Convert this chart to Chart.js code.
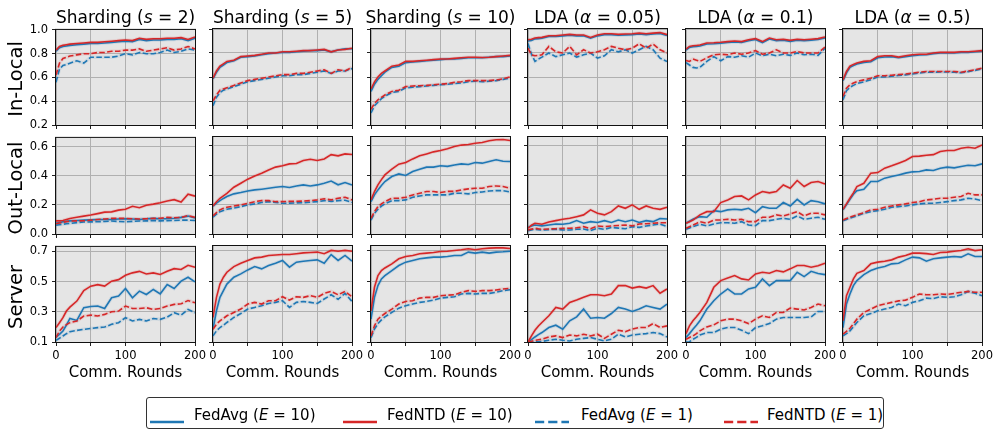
<!DOCTYPE html>
<html>
<head>
<meta charset="utf-8">
<script src="https://cdn.jsdelivr.net/npm/chart.js"></script>
<style>
  body { margin: 0; background: #fff; width: 1000px; height: 436px; position: relative; overflow: hidden;
         font-family: 'DejaVu Sans', sans-serif; color: #000; }
  canvas { position: absolute; }
  .title { position: absolute; top: 9px; font-size: 17px; line-height: 17px; text-align: center; white-space: nowrap; }
  .rowlab { position: absolute; font-size: 19.5px; line-height: 20px; white-space: nowrap;
            transform: translate(-50%, -50%) rotate(-90deg); }
  .xlab { position: absolute; top: 365px; font-size: 15px; line-height: 15px; text-align: center; white-space: nowrap; }
  #legend { position: absolute; left: 146px; top: 397px; width: 738px; height: 32px; box-sizing: border-box;
            border: 1px solid #333; border-radius: 3px; }
  .lg { position: absolute; font-size: 15px; line-height: 15px; white-space: nowrap; top: 408px; }
  .lgline { position: absolute; top: 410px; }
</style>
</head>
<body>
<script>
// x positions (communication rounds) at which the curves were read
const rounds = [0, 5, 10, 15, 20, 30, 40, 50, 60, 70, 80, 90, 100, 110, 120, 130, 140, 150, 160, 170, 180, 190, 200];

const settings = ['Sharding (<i>s</i> = 2)', 'Sharding (<i>s</i> = 5)', 'Sharding (<i>s</i> = 10)',
                  'LDA (<i>α</i> = 0.05)', 'LDA (<i>α</i> = 0.1)', 'LDA (<i>α</i> = 0.5)'];
const metrics = ['In-Local', 'Out-Local', 'Server'];
const methods = ['FedAvg (<i>E</i> = 10)', 'FedNTD (<i>E</i> = 10)', 'FedAvg (<i>E</i> = 1)', 'FedNTD (<i>E</i> = 1)'];

const yTicks = [[0.2, 0.4, 0.6, 0.8, 1.0], [0.0, 0.2, 0.4, 0.6], [0.1, 0.3, 0.5, 0.7]];
const yMin = [0.2, 0.0, 0.1];
const yMax = [1.0, 0.66, 0.73];
const xTicks = [0, 50, 100, 150, 200];
const xTickLabels = [0, 100, 200];

// In-Local accuracy, one list per setting (s=2, s=5, s=10, a=0.05, a=0.1, a=0.5)
const inAvg10 = [
  [0.82,0.85,0.86,0.865,0.87,0.875,0.88,0.885,0.885,0.89,0.895,0.90,0.905,0.90,0.92,0.91,0.915,0.915,0.92,0.92,0.925,0.91,0.93],
  [0.585,0.64,0.68,0.70,0.72,0.735,0.765,0.77,0.775,0.785,0.795,0.80,0.805,0.805,0.81,0.815,0.82,0.82,0.825,0.81,0.825,0.835,0.835],
  [0.48,0.54,0.58,0.61,0.64,0.68,0.69,0.72,0.725,0.73,0.735,0.74,0.745,0.75,0.75,0.755,0.76,0.76,0.76,0.765,0.77,0.77,0.775],
  [0.90,0.905,0.918,0.92,0.923,0.937,0.937,0.943,0.948,0.943,0.943,0.923,0.943,0.953,0.953,0.948,0.951,0.953,0.959,0.953,0.959,0.963,0.946],
  [0.825,0.847,0.852,0.855,0.858,0.875,0.877,0.881,0.887,0.892,0.887,0.902,0.912,0.887,0.917,0.902,0.907,0.897,0.907,0.902,0.907,0.912,0.925],
  [0.57,0.635,0.68,0.695,0.708,0.722,0.727,0.76,0.767,0.77,0.76,0.77,0.778,0.783,0.785,0.795,0.80,0.80,0.80,0.805,0.805,0.81,0.815]
];
const inNtd10 = [
  [0.83,0.86,0.87,0.875,0.88,0.885,0.89,0.895,0.895,0.90,0.905,0.91,0.915,0.91,0.93,0.92,0.925,0.925,0.93,0.93,0.935,0.92,0.94],
  [0.59,0.65,0.69,0.71,0.73,0.74,0.77,0.775,0.78,0.79,0.80,0.80,0.81,0.81,0.815,0.82,0.82,0.825,0.83,0.81,0.825,0.83,0.84],
  [0.50,0.56,0.60,0.63,0.65,0.69,0.70,0.73,0.73,0.735,0.74,0.745,0.75,0.75,0.755,0.76,0.765,0.765,0.763,0.765,0.77,0.775,0.78],
  [0.91,0.915,0.925,0.928,0.93,0.944,0.944,0.95,0.955,0.95,0.95,0.93,0.95,0.96,0.96,0.955,0.958,0.96,0.966,0.96,0.966,0.97,0.953],
  [0.833,0.855,0.86,0.863,0.866,0.883,0.885,0.889,0.895,0.90,0.895,0.91,0.92,0.895,0.925,0.91,0.915,0.905,0.915,0.91,0.915,0.92,0.933],
  [0.576,0.646,0.69,0.705,0.716,0.73,0.735,0.77,0.777,0.777,0.766,0.777,0.785,0.79,0.79,0.80,0.805,0.805,0.805,0.81,0.81,0.815,0.82]
];
const inAvg1 = [
  [0.56,0.67,0.70,0.71,0.72,0.74,0.72,0.77,0.77,0.77,0.77,0.78,0.80,0.79,0.81,0.80,0.80,0.81,0.83,0.81,0.82,0.84,0.83],
  [0.36,0.43,0.47,0.49,0.50,0.52,0.54,0.56,0.57,0.58,0.59,0.60,0.61,0.61,0.62,0.62,0.63,0.64,0.65,0.63,0.65,0.65,0.67],
  [0.30,0.36,0.39,0.42,0.44,0.47,0.48,0.51,0.515,0.52,0.525,0.53,0.535,0.54,0.545,0.55,0.56,0.565,0.56,0.565,0.57,0.58,0.59],
  [0.88,0.79,0.73,0.75,0.766,0.80,0.77,0.785,0.80,0.766,0.785,0.80,0.757,0.777,0.827,0.81,0.827,0.80,0.827,0.855,0.827,0.757,0.73],
  [0.72,0.70,0.68,0.675,0.68,0.73,0.77,0.735,0.77,0.765,0.777,0.765,0.80,0.777,0.79,0.777,0.79,0.78,0.80,0.785,0.79,0.78,0.84],
  [0.41,0.485,0.515,0.53,0.545,0.56,0.578,0.60,0.60,0.607,0.612,0.618,0.625,0.633,0.64,0.64,0.642,0.642,0.64,0.635,0.645,0.655,0.668]
];
const inNtd1 = [
  [0.62,0.72,0.76,0.77,0.78,0.79,0.80,0.80,0.81,0.81,0.82,0.82,0.83,0.83,0.84,0.82,0.83,0.84,0.85,0.83,0.84,0.86,0.84],
  [0.40,0.45,0.49,0.50,0.51,0.53,0.55,0.57,0.58,0.59,0.60,0.61,0.62,0.62,0.63,0.63,0.64,0.65,0.66,0.63,0.66,0.65,0.68],
  [0.33,0.38,0.41,0.43,0.45,0.48,0.49,0.52,0.525,0.527,0.53,0.535,0.54,0.545,0.555,0.56,0.57,0.57,0.57,0.57,0.575,0.585,0.60],
  [0.84,0.785,0.777,0.78,0.785,0.855,0.81,0.80,0.855,0.785,0.827,0.80,0.81,0.827,0.855,0.84,0.827,0.84,0.877,0.84,0.875,0.827,0.80],
  [0.738,0.73,0.75,0.74,0.73,0.76,0.785,0.79,0.785,0.80,0.79,0.80,0.82,0.79,0.80,0.827,0.80,0.80,0.813,0.80,0.80,0.80,0.85],
  [0.437,0.507,0.535,0.55,0.562,0.576,0.59,0.61,0.61,0.615,0.62,0.625,0.632,0.64,0.646,0.646,0.646,0.646,0.646,0.64,0.65,0.66,0.674]
];

// Out-Local accuracy
const outAvg10 = [
  [0.073,0.078,0.084,0.087,0.09,0.093,0.095,0.097,0.10,0.10,0.10,0.103,0.105,0.103,0.10,0.105,0.107,0.105,0.105,0.108,0.114,0.123,0.11],
  [0.19,0.21,0.227,0.242,0.255,0.273,0.282,0.293,0.30,0.305,0.311,0.318,0.323,0.316,0.327,0.334,0.327,0.334,0.345,0.36,0.335,0.35,0.334],
  [0.22,0.266,0.30,0.33,0.357,0.391,0.409,0.398,0.425,0.441,0.455,0.455,0.464,0.46,0.47,0.477,0.473,0.486,0.482,0.493,0.505,0.495,0.493],
  [0.045,0.055,0.061,0.058,0.055,0.061,0.068,0.066,0.073,0.091,0.073,0.084,0.078,0.091,0.078,0.095,0.084,0.095,0.078,0.091,0.084,0.105,0.102],
  [0.073,0.087,0.10,0.11,0.118,0.114,0.159,0.152,0.164,0.168,0.164,0.175,0.145,0.186,0.175,0.175,0.214,0.191,0.236,0.198,0.227,0.22,0.205],
  [0.164,0.20,0.236,0.27,0.295,0.305,0.357,0.357,0.38,0.391,0.402,0.414,0.423,0.425,0.436,0.432,0.448,0.455,0.45,0.459,0.468,0.464,0.477]
];
const outNtd10 = [
  [0.09,0.09,0.093,0.10,0.107,0.115,0.123,0.13,0.14,0.15,0.152,0.164,0.17,0.19,0.18,0.198,0.205,0.214,0.227,0.236,0.22,0.273,0.26],
  [0.19,0.22,0.243,0.26,0.277,0.318,0.345,0.373,0.395,0.414,0.436,0.455,0.464,0.477,0.48,0.50,0.509,0.50,0.51,0.54,0.532,0.545,0.541],
  [0.232,0.289,0.334,0.37,0.402,0.441,0.475,0.486,0.511,0.532,0.545,0.559,0.568,0.58,0.595,0.605,0.609,0.618,0.623,0.634,0.641,0.643,0.636],
  [0.039,0.06,0.073,0.07,0.066,0.082,0.091,0.10,0.107,0.118,0.13,0.164,0.141,0.13,0.152,0.191,0.175,0.198,0.168,0.191,0.175,0.168,0.182],
  [0.073,0.084,0.095,0.112,0.13,0.152,0.152,0.214,0.232,0.255,0.259,0.232,0.266,0.289,0.28,0.289,0.334,0.311,0.364,0.323,0.35,0.357,0.341],
  [0.168,0.205,0.243,0.28,0.323,0.345,0.414,0.418,0.448,0.464,0.482,0.50,0.527,0.53,0.536,0.54,0.561,0.568,0.568,0.584,0.59,0.584,0.605]
];
const outAvg1 = [
  [0.061,0.064,0.067,0.07,0.073,0.078,0.082,0.083,0.084,0.086,0.089,0.086,0.084,0.087,0.089,0.09,0.091,0.09,0.091,0.093,0.095,0.095,0.093],
  [0.114,0.135,0.152,0.16,0.168,0.177,0.186,0.198,0.205,0.214,0.22,0.215,0.209,0.21,0.212,0.213,0.216,0.22,0.227,0.222,0.227,0.23,0.214],
  [0.095,0.14,0.168,0.19,0.205,0.227,0.227,0.232,0.25,0.259,0.266,0.266,0.266,0.266,0.277,0.277,0.273,0.282,0.286,0.293,0.295,0.295,0.286],
  [0.023,0.028,0.032,0.03,0.027,0.03,0.032,0.028,0.027,0.032,0.034,0.023,0.039,0.032,0.045,0.04,0.036,0.05,0.045,0.055,0.061,0.068,0.05],
  [0.032,0.041,0.05,0.058,0.066,0.055,0.068,0.077,0.077,0.073,0.084,0.061,0.057,0.091,0.091,0.10,0.107,0.10,0.123,0.10,0.107,0.114,0.10],
  [0.091,0.099,0.107,0.115,0.123,0.141,0.152,0.159,0.168,0.182,0.186,0.191,0.198,0.205,0.209,0.209,0.214,0.22,0.227,0.232,0.243,0.238,0.227]
];
const outNtd1 = [
  [0.07,0.075,0.08,0.085,0.089,0.09,0.091,0.095,0.10,0.103,0.107,0.107,0.107,0.105,0.103,0.105,0.107,0.108,0.114,0.112,0.114,0.127,0.114],
  [0.123,0.145,0.164,0.175,0.182,0.19,0.198,0.209,0.22,0.227,0.227,0.22,0.22,0.222,0.222,0.224,0.227,0.232,0.24,0.232,0.243,0.25,0.232],
  [0.107,0.152,0.186,0.205,0.22,0.243,0.243,0.25,0.266,0.277,0.289,0.289,0.282,0.29,0.29,0.30,0.307,0.311,0.311,0.323,0.327,0.323,0.311],
  [0.027,0.033,0.039,0.035,0.032,0.034,0.036,0.038,0.039,0.042,0.05,0.036,0.055,0.05,0.055,0.058,0.061,0.055,0.068,0.07,0.073,0.077,0.077],
  [0.039,0.05,0.061,0.072,0.084,0.073,0.095,0.095,0.10,0.095,0.10,0.084,0.084,0.114,0.114,0.13,0.123,0.136,0.152,0.123,0.141,0.141,0.13],
  [0.095,0.105,0.114,0.122,0.13,0.145,0.164,0.168,0.182,0.191,0.198,0.205,0.214,0.22,0.232,0.236,0.243,0.243,0.25,0.255,0.277,0.266,0.266]
];

// Server (global model) accuracy
const srvAvg10 = [
  [0.133,0.151,0.173,0.212,0.256,0.243,0.327,0.335,0.338,0.322,0.393,0.404,0.454,0.393,0.437,0.415,0.448,0.419,0.48,0.454,0.503,0.529,0.498],
  [0.184,0.305,0.393,0.437,0.48,0.525,0.547,0.573,0.595,0.58,0.602,0.617,0.635,0.591,0.624,0.63,0.635,0.639,0.617,0.674,0.635,0.668,0.63],
  [0.25,0.393,0.47,0.514,0.536,0.569,0.602,0.624,0.635,0.646,0.652,0.657,0.657,0.661,0.668,0.668,0.69,0.683,0.69,0.683,0.69,0.692,0.696],
  [0.10,0.115,0.133,0.148,0.162,0.195,0.21,0.184,0.239,0.265,0.316,0.256,0.261,0.256,0.287,0.327,0.316,0.30,0.316,0.338,0.327,0.316,0.349],
  [0.129,0.155,0.184,0.21,0.239,0.316,0.371,0.415,0.448,0.415,0.415,0.448,0.459,0.514,0.47,0.503,0.503,0.503,0.558,0.529,0.564,0.55,0.542],
  [0.195,0.349,0.415,0.47,0.503,0.542,0.569,0.586,0.595,0.613,0.617,0.639,0.657,0.652,0.63,0.646,0.652,0.657,0.661,0.657,0.679,0.661,0.661]
];
const srvNtd10 = [
  [0.195,0.228,0.261,0.305,0.331,0.371,0.441,0.47,0.48,0.47,0.503,0.513,0.542,0.558,0.568,0.551,0.558,0.547,0.568,0.586,0.58,0.608,0.595],
  [0.261,0.393,0.48,0.525,0.558,0.595,0.617,0.635,0.652,0.657,0.668,0.671,0.674,0.674,0.679,0.685,0.687,0.69,0.679,0.701,0.696,0.701,0.696],
  [0.305,0.459,0.536,0.569,0.586,0.613,0.646,0.661,0.668,0.679,0.683,0.687,0.694,0.696,0.70,0.705,0.712,0.705,0.712,0.716,0.718,0.718,0.714],
  [0.10,0.14,0.177,0.205,0.228,0.272,0.327,0.316,0.36,0.375,0.393,0.41,0.41,0.404,0.415,0.47,0.47,0.454,0.463,0.454,0.47,0.42,0.448],
  [0.155,0.206,0.239,0.265,0.294,0.36,0.459,0.503,0.52,0.536,0.514,0.507,0.547,0.558,0.551,0.569,0.56,0.58,0.602,0.602,0.591,0.60,0.617],
  [0.239,0.404,0.459,0.514,0.551,0.569,0.613,0.624,0.63,0.639,0.657,0.668,0.683,0.683,0.68,0.674,0.687,0.69,0.696,0.70,0.712,0.70,0.705]
];
const srvAvg1 = [
  [0.111,0.125,0.14,0.155,0.168,0.177,0.184,0.19,0.195,0.199,0.217,0.228,0.261,0.239,0.25,0.239,0.256,0.25,0.265,0.294,0.278,0.316,0.294],
  [0.14,0.173,0.195,0.21,0.228,0.261,0.287,0.316,0.327,0.338,0.353,0.36,0.371,0.327,0.36,0.366,0.36,0.353,0.382,0.41,0.38,0.419,0.366],
  [0.129,0.184,0.221,0.245,0.265,0.294,0.322,0.338,0.349,0.36,0.366,0.375,0.388,0.393,0.397,0.415,0.419,0.415,0.419,0.419,0.426,0.437,0.443],
  [0.10,0.10,0.10,0.102,0.104,0.111,0.118,0.111,0.107,0.118,0.124,0.129,0.118,0.107,0.118,0.151,0.133,0.146,0.151,0.155,0.162,0.155,0.133],
  [0.10,0.102,0.118,0.13,0.146,0.162,0.162,0.184,0.195,0.195,0.177,0.155,0.195,0.206,0.221,0.25,0.261,0.261,0.261,0.261,0.265,0.30,0.30],
  [0.14,0.155,0.173,0.2,0.228,0.272,0.287,0.305,0.316,0.327,0.349,0.338,0.36,0.371,0.388,0.385,0.397,0.393,0.397,0.41,0.432,0.42,0.404]
];
const srvNtd1 = [
  [0.129,0.173,0.199,0.215,0.228,0.239,0.272,0.278,0.272,0.283,0.30,0.305,0.338,0.322,0.322,0.327,0.316,0.322,0.338,0.349,0.353,0.375,0.36],
  [0.184,0.217,0.239,0.255,0.272,0.294,0.316,0.349,0.36,0.349,0.371,0.371,0.397,0.375,0.397,0.393,0.404,0.393,0.419,0.432,0.41,0.432,0.397],
  [0.14,0.206,0.25,0.27,0.287,0.316,0.349,0.366,0.371,0.388,0.393,0.393,0.404,0.407,0.41,0.426,0.437,0.432,0.437,0.437,0.441,0.448,0.452],
  [0.10,0.105,0.111,0.115,0.118,0.133,0.14,0.129,0.146,0.14,0.151,0.14,0.151,0.124,0.151,0.177,0.168,0.184,0.195,0.195,0.221,0.195,0.206],
  [0.118,0.13,0.14,0.155,0.173,0.199,0.212,0.239,0.25,0.25,0.239,0.221,0.25,0.272,0.261,0.294,0.294,0.322,0.316,0.31,0.327,0.349,0.338],
  [0.151,0.17,0.19,0.22,0.25,0.294,0.316,0.338,0.349,0.36,0.37,0.375,0.393,0.415,0.41,0.41,0.415,0.412,0.419,0.426,0.432,0.426,0.426]
];

const series = [
  [inAvg10, inNtd10, inAvg1, inNtd1],
  [outAvg10, outNtd10, outAvg1, outNtd1],
  [srvAvg10, srvNtd10, srvAvg1, srvNtd1]
];

const lineColors = ['#1f77b4', '#d62728', '#1f77b4', '#d62728'];
const haloColors = ['rgba(31,119,180,0.12)', 'rgba(214,39,40,0.12)', 'rgba(31,119,180,0.1)', 'rgba(214,39,40,0.1)'];
const dashes = [[], [], [5.5, 2.4], [5.5, 2.4]];

// panel geometry (plot areas)
const colL = [56, 213, 371, 528, 686, 843];
const plotW = 139;
const rowT = [29, 137, 246];
const rowH = [96, 97, 96];
const PL = 50, PT = 10, PR = 16, PB = 30;

Chart.defaults.font.family = "'DejaVu Sans', sans-serif";
Chart.defaults.color = '#000';

const panelFrame = {
  id: 'panelFrame',
  beforeDraw(chart) {
    const a = chart.chartArea, ctx = chart.ctx;
    ctx.save();
    ctx.fillStyle = '#e5e5e5';
    ctx.fillRect(a.left, a.top, a.right - a.left, a.bottom - a.top);
    ctx.restore();
  },
  afterDraw(chart) {
    const a = chart.chartArea, ctx = chart.ctx;
    ctx.save();
    ctx.strokeStyle = '#111';
    ctx.lineWidth = 1;
    ctx.strokeRect(a.left - 0.5, a.top - 0.5, a.right - a.left + 1, a.bottom - a.top + 1);
    ctx.restore();
  }
};

function addText(cls, html, style) {
  const d = document.createElement('div');
  d.className = cls;
  d.innerHTML = html;
  Object.assign(d.style, style);
  document.body.appendChild(d);
}

for (let r = 0; r < 3; r++) {
  for (let c = 0; c < 6; c++) {
    const cv = document.createElement('canvas');
    const w = PL + plotW + PR, h = PT + rowH[r] + PB;
    cv.width = w; cv.height = h;
    cv.style.left = (colL[c] - PL) + 'px';
    cv.style.top = (rowT[r] - PT) + 'px';
    cv.style.width = w + 'px';
    cv.style.height = h + 'px';
    document.body.appendChild(cv);

    const datasets = [];
    series[r].forEach((s, k) => {
      const pts = rounds.map((x, i) => ({ x: x, y: s[c][i] }));
      datasets.push({ data: pts, borderColor: lineColors[k], borderWidth: 1.6, borderDash: dashes[k],
                      pointRadius: 0, tension: 0, order: 4 - k, clip: 1 });
      datasets.push({ data: pts, borderColor: haloColors[k], borderWidth: 3.5,
                      pointRadius: 0, tension: 0, order: 10 + k, clip: 1 });
    });

    new Chart(cv, {
      type: 'line',
      data: { datasets: datasets },
      options: {
        responsive: false,
        animation: false,
        devicePixelRatio: 1,
        layout: { padding: { top: PT, right: PR, left: 0, bottom: 0 } },
        plugins: { legend: { display: false }, tooltip: { enabled: false } },
        scales: {
          x: {
            type: 'linear', min: 0, max: 200,
            afterBuildTicks: (s) => { s.ticks = xTicks.map(v => ({ value: v })); },
            afterFit: (s) => { s.height = PB; },
            ticks: { display: r === 2, autoSkip: false, maxRotation: 0, padding: 3, font: { size: 11.5 }, color: '#000',
                     callback: (v) => xTickLabels.includes(v) ? String(v) : '' },
            grid: { color: '#b0b0b0', lineWidth: 1, tickColor: '#222', tickLength: 4 },
            border: { display: false }
          },
          y: {
            type: 'linear', min: yMin[r], max: yMax[r],
            afterBuildTicks: (s) => { s.ticks = yTicks[r].map(v => ({ value: v })); },
            afterFit: (s) => { s.width = PL; },
            ticks: { display: c === 0, autoSkip: false, padding: 4, font: { size: 11.5 }, color: '#000',
                     callback: (v) => Number(v).toFixed(1) },
            grid: { color: '#b0b0b0', lineWidth: 1, tickColor: '#222', tickLength: 4 },
            border: { display: false }
          }
        }
      },
      plugins: [panelFrame]
    });
  }
}

// column titles, row labels, x labels
settings.forEach((t, c) => addText('title', t, { left: (colL[c] - 20) + 'px', width: (plotW + 40) + 'px' }));
const rowCenters = [79, 188, 297];
metrics.forEach((m, r) => addText('rowlab', m, { left: '16px', top: rowCenters[r] + 'px' }));
colL.forEach((l) => addText('xlab', 'Comm. Rounds', { left: (l - 20) + 'px', width: (plotW + 40) + 'px' }));

// legend
const lgBox = document.createElement('div');
lgBox.id = 'legend';
document.body.appendChild(lgBox);
const lgLineX = [150, 343, 535, 724];
const lgTextX = [194, 387, 581, 767];
methods.forEach((m, k) => {
  const dash = dashes[k].length ? 'stroke-dasharray="9.2 4"' : '';
  addText('lgline', '<svg width="34" height="6"><line x1="0" y1="3" x2="34" y2="3" stroke="' + lineColors[k] +
          '" stroke-width="2.6" ' + dash + '/></svg>', { left: lgLineX[k] + 'px' });
  addText('lg', m, { left: lgTextX[k] + 'px' });
});
</script>
</body>
</html>
